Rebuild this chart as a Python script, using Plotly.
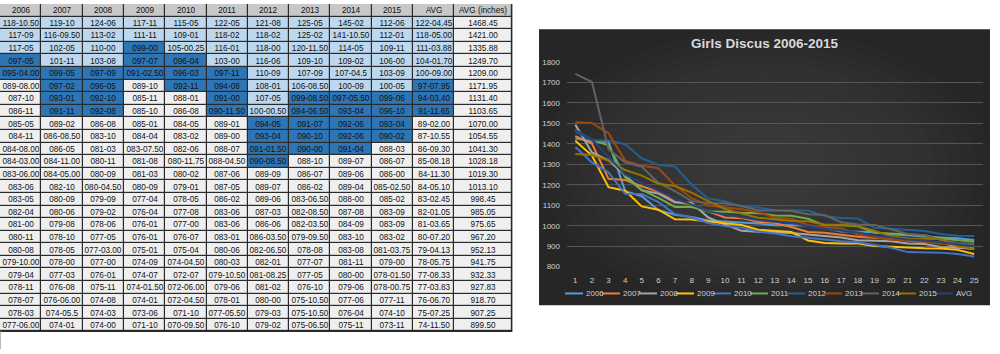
import plotly.graph_objects as go

# ---------------- data ----------------
places = [str(i) for i in range(1, 26)]
years = ["2006", "2007", "2008", "2009", "2010", "2011", "2012", "2013", "2014", "2015"]

y2006 = ["118-10.50", "117-09", "117-05", "097-05", "095-04.00", "089-08.00", "087-10", "086-11", "085-05", "084-11",
         "084-08.00", "084-03.00", "083-06.00", "083-06", "083-05", "082-04", "081-00", "080-11", "080-08", "079-10.00",
         "079-04", "078-11", "078-07", "078-03", "077-06.00"]
y2007 = ["119-10", "116-09.50", "102-05", "101-11", "099-05", "097-02", "093-01", "091-11", "089-02", "086-08.50",
         "086-05", "084-11.00", "084-05.00", "082-10", "080-09", "080-06", "079-08", "078-10", "078-05", "078-00",
         "077-03", "076-08", "076-06.00", "074-05.5", "074-01"]
y2008 = ["124-06", "113-02", "110-00", "103-08", "097-09", "096-05", "092-10", "092-08", "086-08", "083-10",
         "081-03", "080-11", "080-09", "080-04.50", "079-09", "079-02", "078-06", "077-05", "077-03.00", "077-00",
         "076-01", "075-11", "074-08", "074-03", "074-00"]
y2009 = ["117-11", "111-11", "099-00", "097-07", "091-02.50", "089-10", "085-11", "085-10", "085-01", "084-04",
         "083-07.50", "081-08", "081-03", "080-09", "077-04", "076-04", "076-01", "076-01", "075-01", "074-09",
         "074-07", "074-01.50", "074-01", "073-06", "071-10"]
y2010 = ["115-05", "109-01", "105-00.25", "096-04", "096-03", "092-11", "088-01", "086-08", "084-05", "083-02",
         "082-06", "080-11.75", "080-02", "079-01", "078-05", "077-08", "077-00", "076-07", "075-04", "074-04.50",
         "072-07", "072-06.00", "072-04.50", "071-10", "070-09.50"]
y2011 = ["122-05", "118-02", "116-01", "103-00", "097-11", "094-08", "091-00", "090-11.50", "089-01", "089-00",
         "088-07", "088-04.50", "087-06", "087-05", "086-02", "083-06", "083-06", "083-01", "080-06", "080-03",
         "079-10.50", "079-06", "078-01", "077-05.50", "076-10"]
y2012 = ["121-08", "118-02", "118-00", "116-06", "110-09", "108-01", "107-05", "100-00.50", "094-05", "093-04",
         "091-01.50", "090-08.50", "089-09", "089-07", "089-06", "087-03", "086-06", "086-03.50", "082-06.50", "082-01",
         "081-08.25", "081-02", "080-00", "079-03", "079-02"]
y2013 = ["125-05", "125-02", "120-11.50", "109-10", "107-09", "106-08.50", "099-08.50", "094-06.50", "091-07", "090-10",
         "090-00", "088-10", "086-07", "086-02", "083-06.50", "082-08.50", "082-03.50", "079-09.50", "078-08", "077-07",
         "077-05", "076-10", "075-10.50", "075-10.50", "075-06.50"]
y2014 = ["145-02", "141-10.50", "114-05", "109-02", "107-04.5", "100-09", "097-05.50", "093-04", "092-06", "092-06",
         "091-04", "089-07", "089-06", "089-04", "088-00", "087-08", "084-09", "083-10", "083-08", "081-11",
         "080-00", "079-06", "077-06", "076-04", "075-11"]
y2015 = ["112-06", "112-01", "109-11", "106-00", "103-09", "100-05", "099-06", "096-10", "093-04", "090-02",
         "088-03", "086-07", "086-00", "085-02.50", "085-02", "083-09", "083-09", "083-02", "081-03.75", "079-00",
         "078-01.50", "078-00.75", "077-11", "074-10", "073-11"]
avg = ["122-04.45", "118-05.00", "111-03.88", "104-01.70", "100-09.00", "97-07.95", "94-03.40", "91-11.65", "89-02.00",
       "87-10.55", "86-09.30", "85-08.18", "84-11.30", "84-05.10", "83-02.45", "82-01.05", "81-03.65", "80-07.20",
       "79-04.13", "78-05.75", "77-08.33", "77-03.83", "76-06.70", "75-07.25", "74-11.50"]
avg_inches = ["1468.45", "1421.00", "1335.88", "1249.70", "1209.00", "1171.95", "1131.40", "1103.65", "1070.00",
              "1054.55", "1041.30", "1028.18", "1019.30", "1013.10", "998.45", "985.05", "975.65", "967.20",
              "952.13", "941.75", "932.33", "927.83", "918.70", "907.25", "899.50"]

header_labels = years + ["AVG", "AVG (inches)"]
series_names = years + ["AVG"]
series_marks = [y2006, y2007, y2008, y2009, y2010, y2011, y2012, y2013, y2014, y2015, avg]

# ---------------- style ----------------
line_colors = ["#5B9BD5", "#ED7D31", "#A5A5A5", "#FFC000", "#4472C4", "#70AD47",
               "#255E91", "#9E480E", "#636363", "#997300", "#264478"]
col_widths = [41.3] * 11 + [57.5]


def to_inches(mark):
    ft, inch = mark.split("-", 1)
    return int(ft) * 12 + float(inch)


def cell_code(mark):
    # 0 = plain, 1 = light blue (>=100 ft), 2 = blue (90-100 ft), 3 = header
    ft = int(mark.split("-", 1)[0])
    if ft >= 100:
        return 1
    if ft >= 90:
        return 2
    return 0


W, H = 1000, 354


def px(x):
    return x / W


def py(y):
    return 1 - y / H


fig = go.Figure()

# ---------------- table (as a heatmap of cells) ----------------
columns = series_marks + [avg_inches]
codes_cols = [[cell_code(m) for m in col] for col in series_marks] + [[0] * len(avg_inches)]
n_rows = len(places) + 1
z = []
text = []
for r in range(n_rows):
    if r == 0:
        z.append([3] * len(columns))
        text.append(header_labels)
    else:
        z.append([codes_cols[c][r - 1] for c in range(len(columns))])
        text.append([columns[c][r - 1] for c in range(len(columns))])

x_edges = [0.0]
for w in col_widths:
    x_edges.append(x_edges[-1] + w)
y_edges = list(range(n_rows + 1))

fig.add_trace(go.Heatmap(
    z=z, x=x_edges, y=y_edges, text=text, texttemplate="%{text}",
    textfont=dict(family="Liberation Sans, Arial", size=8.2, color="#111111"),
    colorscale=[[0, "#EFEFEF"], [0.25, "#EFEFEF"], [0.25, "#BDD7EE"], [0.5, "#BDD7EE"],
                [0.5, "#2E75B6"], [0.75, "#2E75B6"], [0.75, "#C8C8C8"], [1, "#C8C8C8"]],
    zmin=-0.5, zmax=3.5, showscale=False, xgap=1.2, ygap=1.2, hoverinfo="skip",
    xaxis="x2", yaxis="y2",
))

# ---------------- chart ----------------
for name, marks, color in zip(series_names, series_marks, line_colors):
    fig.add_trace(go.Scatter(
        x=places, y=[to_inches(m) for m in marks], name=name, mode="lines",
        line=dict(color=color, width=2), showlegend=False,
        xaxis="x", yaxis="y",
    ))

shapes = []
# table border background (shows through the cell gaps)
shapes.append(dict(type="rect", xref="paper", yref="paper", x0=0, x1=px(x_edges[-1] + 0.6),
                   y0=py(336.5), y1=1, fillcolor="#2a2a2a", line=dict(width=0), layer="below"))
# chart panel with a lighter centre
p0, p1, q0, q1 = 539, 990, 26, 309
shapes.append(dict(type="rect", xref="paper", yref="paper", x0=px(p0), x1=px(p1), y0=py(q1), y1=py(q0),
                   fillcolor="#262626", line=dict(width=0), layer="below"))
cx, cy = (p0 + p1) / 2, (q0 + q1) / 2
n = 14
for k in range(n):
    s = 1.0 - k * (0.85 / n)
    hw, hh = (p1 - p0) / 2 * s, (q1 - q0) / 2 * s
    shapes.append(dict(type="circle", xref="paper", yref="paper",
                       x0=px(cx - hw), x1=px(cx + hw), y0=py(cy + hh), y1=py(cy - hh),
                       fillcolor="#5a5a5a", opacity=0.045, line=dict(width=0), layer="below"))
# sheet edge
shapes.append(dict(type="line", xref="paper", yref="paper", x0=px(0.5), x1=px(0.5), y0=py(336), y1=0,
                   line=dict(color="#B8B8B8", width=1)))

annotations = [dict(text="<b>Girls Discus 2006-2015</b>", xref="paper", yref="paper",
                    x=px(765), y=py(41), showarrow=False, xanchor="center", yanchor="middle",
                    font=dict(family="Liberation Sans, Arial", size=13.5, color="#D9D9D9"))]

# legend (drawn manually to match the compact Excel layout)
leg_y = py(297)
for i, (name, color) in enumerate(zip(series_names, line_colors)):
    x0 = 565 + i * 37
    shapes.append(dict(type="line", xref="paper", yref="paper", x0=px(x0), x1=px(x0 + 18),
                       y0=leg_y, y1=leg_y, line=dict(color=color, width=2)))
    annotations.append(dict(text=name, xref="paper", yref="paper", x=px(x0 + 18.5), y=leg_y,
                            showarrow=False, xanchor="left", yanchor="middle",
                            font=dict(family="Liberation Sans, Arial", size=8, color="#D0D0D0")))

fig.update_layout(
    width=W, height=H, margin=dict(l=0, r=0, t=0, b=0),
    paper_bgcolor="white", plot_bgcolor="rgba(0,0,0,0)",
    showlegend=False,
    xaxis=dict(domain=[px(567), px(982.5)], type="category", range=[-0.5, 24.5],
               showgrid=False, zeroline=False, showline=False, ticks="", ticklabelstandoff=7,
               tickfont=dict(family="Liberation Sans, Arial", size=8, color="#CFCFCF")),
    yaxis=dict(domain=[py(269.5), py(59.5)], range=[800, 1800], dtick=100,
               showgrid=True, gridcolor="#555555", gridwidth=1, zeroline=False, showline=False,
               ticks="", ticklabelstandoff=6,
               tickfont=dict(family="Liberation Sans, Arial", size=8, color="#CFCFCF")),
    xaxis2=dict(domain=[0, px(x_edges[-1])], range=[0, x_edges[-1]], visible=False, anchor="y2"),
    yaxis2=dict(domain=[py(336), 1], range=[n_rows, 0], visible=False, anchor="x2"),
    shapes=shapes, annotations=annotations,
)

fig.write_html("out.html")
